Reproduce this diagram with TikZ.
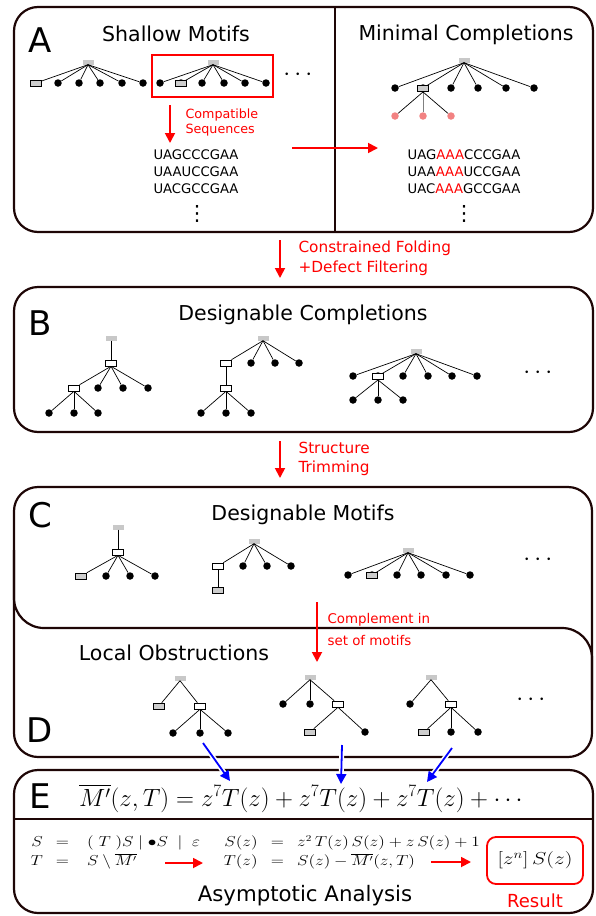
\documentclass[tikz,border=0pt]{standalone}
\usepackage{fontspec}
\setmainfont{DejaVu Sans}
\usepackage{amsmath}
\usepackage{graphicx}
\usepackage{xcolor}
\usepackage{tikz}
\usetikzlibrary{arrows.meta}
\definecolor{frame}{RGB}{30,6,6}
\definecolor{rootgrey}{RGB}{200,200,200}
\definecolor{boxgrey}{RGB}{205,205,205}
\definecolor{pinkdot}{RGB}{242,130,130}
\newcommand{\sz}[1]{\fontsize{#1}{#1}\selectfont}

\begin{document}
\begin{tikzpicture}[x=1pt,y=-1pt,>={Triangle[length=10pt,width=10pt]},
    panel/.style={draw=frame,line width=2.2pt,rounded corners=24pt},
    divider/.style={draw=frame,line width=2.2pt},
    letter/.style={anchor=base,font=\sz{34}},
    title/.style={anchor=base,font=\sz{20.5}},
    root/.style={fill=rootgrey,minimum width=11pt,minimum height=5pt,inner sep=0pt},
    wbox/.style={draw,fill=white,line width=0.6pt,minimum width=11pt,minimum height=6pt,inner sep=0pt},
    gbox/.style={wbox,fill=boxgrey},
    dot/.style={circle,fill=black,minimum size=7.5pt,inner sep=0pt},
    pdot/.style={dot,fill=pinkdot},
    link/.style={line width=0.7pt},
    more/.style={font=\sz{23}},
    vmore/.style={font=\sz{21},inner sep=0pt},
    flow/.style={red,line width=1.8pt,->},
    blueflow/.style={blue,line width=1.8pt,->,preaction={draw=white,line width=5pt,-}},
    note/.style={red,align=left,anchor=west},
    seq/.style={align=center,font=\fontsize{13.2}{17}\selectfont},
    maths/.style={font=\fontsize{13.5}{19}\selectfont},
    ]
\useasboundingbox (0,0) rectangle (595,916);

% A: shallow motifs and minimal completions
\draw[panel] (14,7) rectangle (593,232);
\draw[divider] (335,7) -- (335,232);
\node[letter] (labA) at (40,52) {A};
\node[title] (titA) at (176,41) {Shallow Motifs};
\node[title] (titM) at (466,40) {Minimal Completions};

\node[root] (a1) at (88,62) {};
\node[gbox] (a1-0) at (36,83) {};
\draw[link] (a1.south) -- (a1-0);
\foreach \x [count=\i] in {58,79,100,122,143}
  {\node[dot] (a1-\i) at (\x,83) {}; \draw[link] (a1.south) -- (a1-\i);}

\node[root] (a2) at (213,62) {};
\foreach \x [count=\i] in {160,181,202,224,245,266}
  {\node[dot] (a2-\i) at (\x,83) {}; \draw[link] (a2.south) -- (a2-\i);}
\node[gbox] at (a2-2) {};
\draw[red,line width=1.8pt] (152,55) rectangle (273,97);
\node[more] (moreA) at (300,75) {$\cdots$};

\coordinate (cs-top) at (170,105);
\coordinate (cs-bot) at (170,143);
\draw[flow] (cs-top) -- (cs-bot);
\node[note,font=\fontsize{12.7}{15}\selectfont] (compat) at (182,122.5) {Compatible\\Sequences};
\node[seq] (seqA) at (196,172) {UAGCCCGAA\\UAAUCCGAA\\UACGCCGAA};
\node[vmore] (vdA) at (197,214) {⋮};

\coordinate (mc-from) at (292,148);
\coordinate (mc-to) at (378,148);
\draw[flow] (mc-from) -- (mc-to);

\node[root] (m) at (464,60) {};
\foreach \x [count=\i] in {395,423,451,478,506,534}
  {\node[dot] (m-\i) at (\x,88) {}; \draw[link] (m.south) -- (m-\i);}
\node[gbox] at (m-2) {};
\foreach \x [count=\i] in {395,423,451}
  {\node[pdot] (p-\i) at (\x,116) {};}
\draw[link] (m-2.south) -- (p-1);
\draw[link,gray] (m-2.south) -- (p-2);
\draw[link] (m-2.south) -- (p-3);
\node[seq] (seqM) at (464,172) {UAG\textcolor{red}{AAA}CCCGAA\\UAA\textcolor{red}{AAA}UCCGAA\\UAC\textcolor{red}{AAA}GCCGAA};
\node[vmore] (vdM) at (464,214) {⋮};

\coordinate (ab-top) at (280,240);
\coordinate (ab-bot) at (280,278);
\draw[flow] (ab-top) -- (ab-bot);
\node[note,font=\fontsize{15.3}{20}\selectfont] (fold) at (295,258) {Constrained Folding\\+Defect Filtering};

% B: designable completions
\draw[panel] (14,287) rectangle (593,432);
\node[letter] (labB) at (40,335) {B};
\node[title] (titB) at (303,320) {Designable Completions};

\node[root] (b1) at (111,338) {};
\node[wbox] (b1-1) at (111,363) {};
\draw[link] (b1) -- (b1-1);
\node[wbox] (b1-2) at (74,388) {};
\draw[link] (b1-1.south) -- (b1-2);
\foreach \x [count=\i from 3] in {98,123,148}
  {\node[dot] (b1-\i) at (\x,388) {}; \draw[link] (b1-1.south) -- (b1-\i);}
\foreach \x [count=\i from 6] in {49,74,98}
  {\node[dot] (b1-\i) at (\x,413) {}; \draw[link] (b1-2.south) -- (b1-\i);}

\node[root] (b2) at (263,338) {};
\node[wbox] (b2-1) at (226,363) {};
\draw[link] (b2.south) -- (b2-1);
\foreach \x [count=\i from 2] in {251,275,299}
  {\node[dot] (b2-\i) at (\x,363) {}; \draw[link] (b2.south) -- (b2-\i);}
\node[wbox] (b2-5) at (226,388) {};
\draw[link] (b2-1) -- (b2-5);
\foreach \x [count=\i from 6] in {201,226,251}
  {\node[dot] (b2-\i) at (\x,413) {}; \draw[link] (b2-5.south) -- (b2-\i);}

\node[root] (b3) at (416,351) {};
\foreach \x [count=\i] in {353,378,403,428,452,477}
  {\node[dot] (b3-\i) at (\x,376) {}; \draw[link] (b3.south) -- (b3-\i);}
\node[wbox] at (b3-2) {};
\foreach \x [count=\i from 7] in {353,378,403}
  {\node[dot] (b3-\i) at (\x,400) {}; \draw[link] (b3-2.south) -- (b3-\i);}
\node[more] (moreB) at (540,373) {$\cdots$};

\coordinate (bc-top) at (280,441);
\coordinate (bc-bot) at (280,478);
\draw[flow] (bc-top) -- (bc-bot);
\node[note,font=\fontsize{15.3}{19}\selectfont] (trim) at (295,458.5) {Structure\\Trimming};

% C and D: designable motifs, local obstructions
\draw[panel] (14,487) rectangle (592,757);
\draw[divider,rounded corners=30pt] (14,550) |- (592,628) -- (592,700);
\node[letter] (labC) at (40,527) {C};
\node[title] (titC) at (303,520) {Designable Motifs};

\node[root] (c1) at (118,527) {};
\node[wbox] (c1-1) at (118,552) {};
\draw[link] (c1) -- (c1-1);
\node[gbox] (c1-2) at (81,576) {};
\draw[link] (c1-1.south) -- (c1-2);
\foreach \x [count=\i from 3] in {106,130,155}
  {\node[dot] (c1-\i) at (\x,576) {}; \draw[link] (c1-1.south) -- (c1-\i);}

\node[root] (c2) at (254,541) {};
\node[wbox] (c2-1) at (218,566) {};
\draw[link] (c2.south) -- (c2-1);
\foreach \x [count=\i from 2] in {243,267,291}
  {\node[dot] (c2-\i) at (\x,566) {}; \draw[link] (c2.south) -- (c2-\i);}
\node[gbox] (c2-5) at (218,590) {};
\draw[link] (c2-1) -- (c2-5);

\node[root] (c3) at (408,550) {};
\foreach \x [count=\i] in {348,372,397,421,446,470}
  {\node[dot] (c3-\i) at (\x,575) {}; \draw[link] (c3.south) -- (c3-\i);}
\node[gbox] at (c3-2) {};
\node[more] (moreC) at (540,560) {$\cdots$};

\coordinate (cd-top) at (317,602);
\coordinate (cd-bot) at (317,662);
\draw[flow] (cd-top) -- (cd-bot);
\node[note,font=\fontsize{13.4}{22}\selectfont] (compl) at (324,629) {Complement in\\set of motifs};

\node[title] (titD) at (174,660) {Local Obstructions};
\node[letter] (labD) at (40,742) {D};

\node[root] (d1) at (180,678) {};
\node[gbox] (d1-1) at (159,706) {};
\node[wbox] (d1-2) at (200,706) {};
\draw[link] (d1.south) -- (d1-1);
\draw[link] (d1.south) -- (d1-2);
\foreach \x [count=\i from 3] in {173,200,228}
  {\node[dot] (d1-\i) at (\x,733) {}; \draw[link] (d1-2.south) -- (d1-\i);}

\node[root] (d2) at (310,677) {};
\node[dot] (d2-1) at (283,704) {};
\node[dot] (d2-2) at (310,704) {};
\node[wbox] (d2-3) at (338,704) {};
\foreach \c in {1,2,3} \draw[link] (d2.south) -- (d2-\c);
\node[gbox] (d2-4) at (310,732) {};
\node[dot] (d2-5) at (365,732) {};
\draw[link] (d2-3.south) -- (d2-4);
\draw[link] (d2-3.south) -- (d2-5);

\node[root] (d3) at (431,677) {};
\node[dot] (d3-1) at (410,704) {};
\node[wbox] (d3-2) at (451,704) {};
\draw[link] (d3.south) -- (d3-1);
\draw[link] (d3.south) -- (d3-2);
\node[gbox] (d3-3) at (424,732) {};
\node[dot] (d3-4) at (451,732) {};
\node[dot] (d3-5) at (478,732) {};
\foreach \c in {3,4,5} \draw[link] (d3-2.south) -- (d3-\c);
\node[more] (moreD) at (533,700) {$\cdots$};

% E: generating functions
\draw[panel] (14,770) rectangle (593,913);
\draw[divider] (14,819) -- (593,819);
\node[letter] (labE) at (40,808) {E};
\node[anchor=base,font=\sz{23.8}] (gf) at (303,806)
  {$\overline{M'}(z,T) = z^7T(z) + z^7T(z) + z^7T(z) + \cdots$};
\coordinate (t1) at (230,781);
\coordinate (t2) at (341,784);
\coordinate (t3) at (427,782);
\coordinate (s1) at (203,743);
\coordinate (s2) at (342,745);
\coordinate (s3) at (452,748);
\foreach \k in {1,2,3} \draw[blueflow] (s\k) -- (t\k);

\node[maths,anchor=west] (spec) at (27,852.5)
  {\scalebox{1.2}[1]{$\begin{array}{@{}r@{\hspace{11pt}}c@{\hspace{11pt}}l@{}}
    S & = & \;(\;T\;)S\mid\bullet S\;\mid\;\varepsilon\\
    T & = & \;S\setminus\overline{M'}\end{array}$}};
\node[maths,anchor=west] (eqs) at (220,852.5)
  {\scalebox{1.2}[1]{$\begin{array}{@{}r@{\hspace{11pt}}c@{\hspace{11pt}}l@{}}
    S(z) & = & z^2\,T(z)\,S(z)+z\,S(z)+1\\
    T(z) & = & S(z)-\overline{M'}(z,T)\end{array}$}};
\node[draw=red,line width=1.8pt,rounded corners=9pt,minimum width=96pt,minimum height=47pt,font=\sz{18.5}]
  (res) at (535,860.5) {\scalebox{1.25}[1]{$[z^n]\,S(z)$}};
\coordinate (f1) at (165,863);
\coordinate (g1) at (203,863);
\coordinate (f2) at (431,862);
\coordinate (g2) at (471,862);
\draw[flow] (f1) -- (g1);
\draw[flow] (f2) -- (g2);
\node[anchor=base,font=\sz{21.3}] (asym) at (305,901) {Asymptotic Analysis};
\node[anchor=base,red,font=\sz{18}] (reslab) at (535,907) {Result};
\end{tikzpicture}
\end{document}
